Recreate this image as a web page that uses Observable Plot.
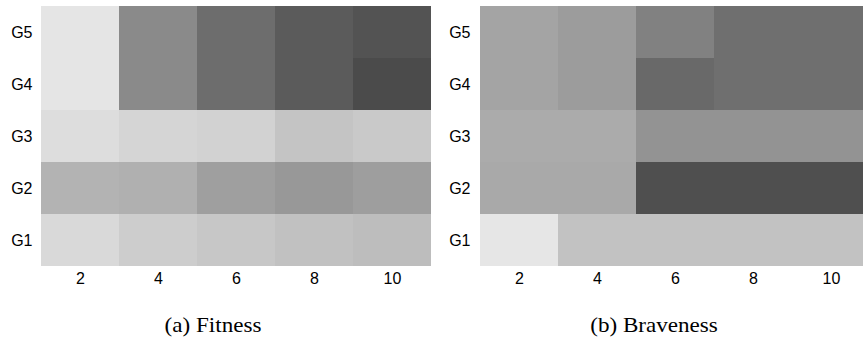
<!DOCTYPE html>
<html><head><meta charset="utf-8">
<script src="https://cdn.jsdelivr.net/npm/d3@7"></script>
<script src="https://cdn.jsdelivr.net/npm/@observablehq/plot@0.6"></script>
<style>
html,body{margin:0;padding:0;background:#fff}
body{overflow:hidden;width:863px;height:340px}
#row{display:flex;width:870px}
.panel{flex:0 0 auto}
.cap{font-family:"Liberation Serif","Times New Roman",serif;font-size:21px;line-height:26px;text-align:center;margin-top:17px;color:#000}
.cap span{display:inline-block;transform:scaleX(1.1)}
</style></head><body>
<div id="row">
  <div class="panel" id="a"><div class="cap" style="padding-right:6px"><span></span></div></div>
  <div class="panel" id="b"><div class="cap" style="padding-left:6px"><span></span></div></div>
</div>
<script>
const steps = [2, 4, 6, 8, 10];
const groups = ["G5", "G4", "G3", "G2", "G1"];
// darkness values (0 = white, 255 = black), rows in the order of groups
const fitness = [
  [26, 117, 146, 164, 172],
  [26, 117, 146, 164, 180],
  [34, 42, 45, 59, 54],
  [76, 79, 96, 103, 97],
  [38, 50, 56, 62, 66]
];
const braveness = [
  [91, 99, 126, 144, 144],
  [91, 99, 150, 144, 144],
  [84, 84, 108, 108, 108],
  [86, 86, 176, 176, 176],
  [25, 61, 61, 61, 61]
];
const captions = ["(a) Fitness", "(b) Braveness"];

function table(m) {
  return groups.flatMap((g, i) => steps.map((s, j) => ({g, s, v: m[i][j]})));
}
function chart(m, width, marginLeft, marginRight, yPad) {
  return Plot.plot({
    width, height: 295,
    marginTop: 4, marginBottom: 28, marginLeft, marginRight,
    x: {type: "band", domain: steps, padding: 0, tickSize: 0, tickPadding: 5, label: null},
    y: {type: "band", domain: groups, padding: 0, tickSize: 0, tickPadding: yPad, label: null},
    color: {type: "linear", domain: [0, 255], range: ["#ffffff", "#000000"], interpolate: "rgb"},
    style: {fontFamily: "'Liberation Sans', Arial, sans-serif", fontSize: "16px", color: "#000", background: "#fff"},
    marks: [
      Plot.cell(table(m), {x: "s", y: "g", fill: "v", shapeRendering: "crispEdges"})
    ]
  });
}
const a = document.getElementById("a");
a.insertBefore(chart(fitness, 432, 40, 1, 8), a.firstChild);
a.querySelector(".cap span").textContent = captions[0];
const b = document.getElementById("b");
b.insertBefore(chart(braveness, 438, 48, 0, 10), b.firstChild);
b.querySelector(".cap span").textContent = captions[1];
</script>
</body></html>
